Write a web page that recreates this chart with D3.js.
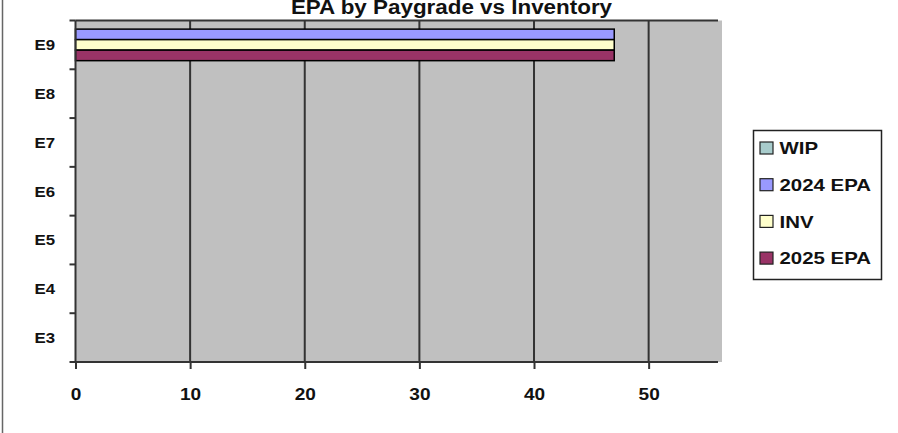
<!DOCTYPE html>
<html>
<head>
<meta charset="utf-8">
<script src="https://cdn.jsdelivr.net/npm/d3@7"></script>
<style>
  body { margin: 0; background: #fff; }
  svg { display: block; font-family: Arial, "Liberation Sans", sans-serif; }
</style>
</head>
<body>
<div id="chart"></div>
<script>
"use strict";

// Paygrades, top to bottom
const paygrades = ["E9", "E8", "E7", "E6", "E5", "E4", "E3"];
const seriesNames = ["WIP", "2024 EPA", "INV", "2025 EPA"];
const seriesColors = ["#A8CCCC", "#9999FF", "#FFFFCC", "#993366"];
// Values per paygrade (same order as paygrades)
const wip = [0, 0, 0, 0, 0, 0, 0];
const epa2024 = [47, 0, 0, 0, 0, 0, 0];
const inv = [47, 0, 0, 0, 0, 0, 0];
const epa2025 = [47, 0, 0, 0, 0, 0, 0];
const xTicks = [0, 10, 20, 30, 40, 50];

const width = 898, height = 433;
const margin = { top: 20.5, left: 75.5, right: 176, bottom: 71 };

const svg = d3.select("#chart").append("svg")
    .attr("width", width)
    .attr("height", height);

// The source text is a bit wider than Arial, so stretch it
function stretch(sel, k) {
    sel.each(function () {
        const len = this.getComputedTextLength();
        d3.select(this).attr("textLength", len * k).attr("lengthAdjust", "spacingAndGlyphs");
    });
}

// Chart area border on the left
svg.append("line")
    .attr("x1", 2.5).attr("x2", 2.5)
    .attr("y1", 0).attr("y2", height)
    .attr("stroke", "#666").attr("stroke-width", 1.5);

const xScale = d3.scaleLinear()
    .domain([0, 56.4])
    .range([margin.left, width - margin.right]);

const yScale = d3.scaleBand()
    .domain(paygrades)
    .range([margin.top, height - margin.bottom]);

// Only the series with bars drawn take a slot in the group
const drawn = ["2024 EPA", "INV", "2025 EPA"];
const subScale = d3.scaleBand()
    .domain(drawn)
    .range([0, yScale.bandwidth()])
    .paddingOuter(0.82)
    .paddingInner(0);

const seriesValues = { "WIP": wip, "2024 EPA": epa2024, "INV": inv, "2025 EPA": epa2025 };
const color = d3.scaleOrdinal().domain(seriesNames).range(seriesColors);

// Plot area background
svg.append("rect")
    .attr("x", margin.left)
    .attr("y", margin.top)
    .attr("width", xScale.range()[1] - margin.left)
    .attr("height", height - margin.bottom - margin.top)
    .attr("fill", "#C0C0C0");

// Vertical gridlines
svg.append("g")
    .selectAll("line")
    .data(xTicks.slice(1))
    .join("line")
    .attr("x1", d => xScale(d)).attr("x2", d => xScale(d))
    .attr("y1", margin.top).attr("y2", height - margin.bottom)
    .attr("stroke", "#333").attr("stroke-width", 2);

// Top border of plot area
svg.append("line")
    .attr("x1", margin.left).attr("x2", xScale.range()[1] - 4)
    .attr("y1", margin.top).attr("y2", margin.top)
    .attr("stroke", "#333").attr("stroke-width", 2);

// Bars
const groups = svg.append("g")
    .selectAll("g")
    .data(paygrades)
    .join("g")
    .attr("transform", d => `translate(0,${yScale(d)})`);

groups.selectAll("rect")
    .data((d, i) => drawn.map(s => ({ series: s, value: seriesValues[s][i] })).filter(d => d.value > 0))
    .join("rect")
    .attr("x", xScale(0))
    .attr("y", d => subScale(d.series))
    .attr("width", d => xScale(d.value) - xScale(0))
    .attr("height", subScale.bandwidth())
    .attr("fill", d => color(d.series))
    .attr("stroke", "#000")
    .attr("stroke-width", 1.5);

// X axis
svg.append("g")
    .attr("transform", `translate(0,${height - margin.bottom})`)
    .call(d3.axisBottom(xScale).tickValues(xTicks).tickSize(7).tickPadding(19))
    .call(g => g.select(".domain").attr("d", `M${margin.left},0H${xScale.range()[1] - 4}`).attr("stroke", "#333").attr("stroke-width", 2))
    .call(g => g.selectAll(".tick line").attr("stroke", "#333").attr("stroke-width", 2))
    .call(g => g.selectAll(".tick text")
        .attr("font-size", 17)
        .attr("font-weight", "bold")
        .attr("fill", "#111")
        .call(stretch, 1.12));

// Y axis
const yTickPos = d3.range(paygrades.length + 1).map(i => margin.top + i * yScale.step());
svg.append("line")
    .attr("x1", margin.left).attr("x2", margin.left)
    .attr("y1", margin.top).attr("y2", height - margin.bottom)
    .attr("stroke", "#333").attr("stroke-width", 2);

svg.append("g")
    .selectAll("line")
    .data(yTickPos)
    .join("line")
    .attr("x1", margin.left - 6).attr("x2", margin.left)
    .attr("y1", d => d).attr("y2", d => d)
    .attr("stroke", "#333").attr("stroke-width", 2);

svg.append("g")
    .selectAll("text")
    .data(paygrades)
    .join("text")
    .attr("x", 55)
    .attr("y", d => yScale(d) + yScale.bandwidth() / 2)
    .attr("dy", "0.36em")
    .attr("text-anchor", "end")
    .attr("font-size", 15)
    .attr("font-weight", "bold")
    .attr("fill", "#111")
    .text(d => d)
    .call(stretch, 1.12);

// Title (partly cut off at the top)
svg.append("text")
    .attr("x", 451.5)
    .attr("y", 13.5)
    .attr("text-anchor", "middle")
    .attr("font-size", 20)
    .attr("font-weight", "bold")
    .attr("fill", "#111")
    .text("EPA by Paygrade vs Inventory")
    .call(stretch, 1.12);

// Legend
const legend = svg.append("g").attr("transform", "translate(753.5,130.5)");
legend.append("rect")
    .attr("width", 128)
    .attr("height", 149)
    .attr("fill", "#fff")
    .attr("stroke", "#222")
    .attr("stroke-width", 1.5);

const item = legend.selectAll("g")
    .data(seriesNames)
    .join("g")
    .attr("transform", (d, i) => `translate(0,${17.5 + i * 36.7})`);

item.append("rect")
    .attr("x", 6.5).attr("y", -6)
    .attr("width", 13).attr("height", 12)
    .attr("fill", d => color(d))
    .attr("stroke", "#222")
    .attr("stroke-width", 1.2);

item.append("text")
    .attr("x", 26)
    .attr("dy", "0.36em")
    .attr("font-size", 17)
    .attr("font-weight", "bold")
    .attr("fill", "#111")
    .text(d => d)
    .call(stretch, 1.2);
</script>
</body>
</html>
